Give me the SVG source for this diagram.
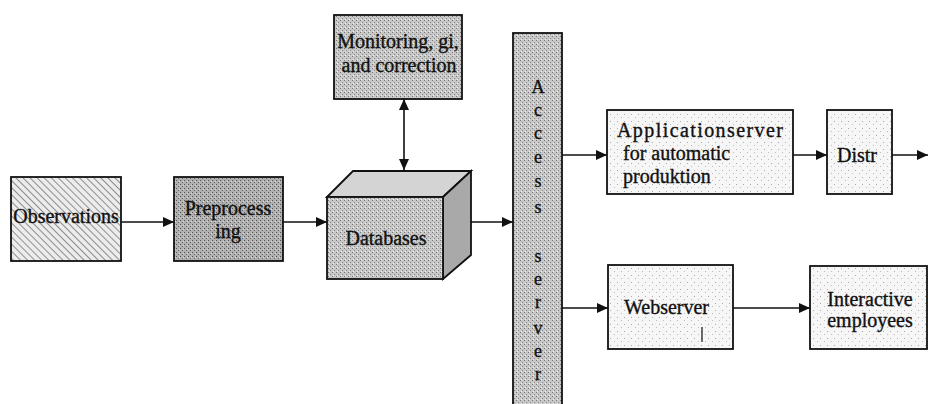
<svg xmlns="http://www.w3.org/2000/svg" width="928" height="404" viewBox="0 0 928 404">
<style>
  .box { stroke: #111; stroke-width: 1.8; }
  .lbl { font-family: "Liberation Serif", "Times New Roman", serif; font-size: 20px; fill: #111; stroke: #111; stroke-width: 0.35; }
  .mid { text-anchor: middle; }
  .vl { font-family: "Liberation Serif", "Times New Roman", serif; font-size: 18px; fill: #111; stroke: #111; stroke-width: 0.35; text-anchor: middle; }
  .conn { stroke: #111; stroke-width: 1.6; fill: none; }
</style>
<defs>
  <marker id="ah" markerUnits="userSpaceOnUse" markerWidth="11" markerHeight="10" refX="11" refY="5" orient="auto-start-reverse">
    <path d="M0,0 L11,5 L0,10 Z" fill="#111"/>
  </marker>
  <pattern id="hatch" width="5" height="5" patternUnits="userSpaceOnUse" patternTransform="rotate(-45)">
    <rect width="5" height="5" fill="#ececec"/>
    <line x1="0" y1="0" x2="0" y2="5" stroke="#666" stroke-width="1.4"/>
  </pattern>
  <pattern id="dark" width="4" height="4" patternUnits="userSpaceOnUse">
    <rect width="4" height="4" fill="#b0b0b0"/>
    <rect x="0" y="0" width="1" height="1" fill="#555"/>
    <rect x="2" y="2" width="1" height="1" fill="#666"/>
    <rect x="3" y="1" width="1" height="1" fill="#ddd"/>
  </pattern>
  <pattern id="mid" width="4" height="4" patternUnits="userSpaceOnUse">
    <rect width="4" height="4" fill="#c8c8c8"/>
    <rect x="0" y="0" width="1" height="1" fill="#777"/>
    <rect x="2" y="2" width="1" height="1" fill="#888"/>
    <rect x="1" y="3" width="1" height="1" fill="#eee"/>
  </pattern>
  <pattern id="light" width="7" height="7" patternUnits="userSpaceOnUse">
    <rect width="7" height="7" fill="#f6f6f6"/>
    <rect x="1" y="2" width="1" height="1" fill="#aaa"/>
    <rect x="5" y="5" width="1" height="1" fill="#bbb"/>
  </pattern>
</defs>

<g id="observations">
  <rect class="box" x="11" y="177" width="110" height="84" fill="url(#hatch)"/>
  <text class="lbl mid" x="66" y="223">Observations</text>
</g>

<g id="preprocessing">
  <rect class="box" x="174" y="177" width="109" height="84" fill="url(#dark)"/>
  <text class="lbl mid" x="228" y="215">Preprocess</text>
  <text class="lbl mid" x="228" y="238">ing</text>
</g>

<g id="monitoring">
  <rect class="box" x="334" y="15" width="128" height="84" fill="url(#mid)"/>
  <text class="lbl mid" x="398" y="48">Monitoring, gi,</text>
  <text class="lbl mid" x="399" y="72">and correction</text>
</g>

<g id="databases">
  <path class="box" d="M327,197 L353,171 L471,171 L443,197 Z" fill="#d4d4d4"/>
  <path class="box" d="M443,197 L471,171 L471,255 L443,279 Z" fill="#a9a9a9"/>
  <rect class="box" x="327" y="197" width="116" height="82" fill="url(#mid)"/>
  <text class="lbl mid" x="386" y="245">Databases</text>
</g>

<g id="access-server">
  <rect class="box" x="513" y="33" width="49" height="380" fill="url(#mid)"/>
  <text class="vl" x="538" y="93">A</text>
  <text class="vl" x="538" y="116">c</text>
  <text class="vl" x="538" y="139">c</text>
  <text class="vl" x="538" y="163">e</text>
  <text class="vl" x="538" y="187">s</text>
  <text class="vl" x="538" y="213">s</text>
  <text class="vl" x="538" y="262">s</text>
  <text class="vl" x="538" y="285">e</text>
  <text class="vl" x="538" y="308">r</text>
  <text class="vl" x="538" y="334">v</text>
  <text class="vl" x="538" y="357">e</text>
  <text class="vl" x="538" y="380">r</text>
</g>

<g id="applicationserver">
  <rect class="box" x="607" y="110" width="186" height="84" fill="url(#light)"/>
  <text class="lbl" x="617" y="137" textLength="166" lengthAdjust="spacing">Applicationserver</text>
  <text class="lbl" x="623" y="160">for automatic</text>
  <text class="lbl" x="623" y="183">produktion</text>
</g>

<g id="distr">
  <rect class="box" x="827" y="110" width="65" height="84" fill="url(#light)"/>
  <text class="lbl mid" x="857" y="162">Distr</text>
</g>

<g id="webserver">
  <rect class="box" x="608" y="265" width="125" height="84" fill="url(#light)"/>
  <text class="lbl" x="624" y="314">Webserver</text>
  <line x1="702" y1="327" x2="702" y2="342" stroke="#111" stroke-width="1.2"/>
</g>

<g id="interactive-employees">
  <rect class="box" x="810" y="266" width="117" height="83" fill="url(#light)"/>
  <text class="lbl mid" x="870" y="306">Interactive</text>
  <text class="lbl mid" x="870" y="327">employees</text>
</g>

<g id="connectors">
  <path class="conn" d="M121,222 H174" marker-end="url(#ah)"/>
  <path class="conn" d="M283,222 H327" marker-end="url(#ah)"/>
  <path class="conn" d="M404,99 V170" marker-start="url(#ah)" marker-end="url(#ah)"/>
  <path class="conn" d="M471,222 H513" marker-end="url(#ah)"/>
  <path class="conn" d="M562,155 H607" marker-end="url(#ah)"/>
  <path class="conn" d="M793,155 H827" marker-end="url(#ah)"/>
  <path class="conn" d="M892,155 H928" marker-end="url(#ah)"/>
  <path class="conn" d="M562,308 H608" marker-end="url(#ah)"/>
  <path class="conn" d="M733,308 H810" marker-end="url(#ah)"/>
</g>
</svg>
